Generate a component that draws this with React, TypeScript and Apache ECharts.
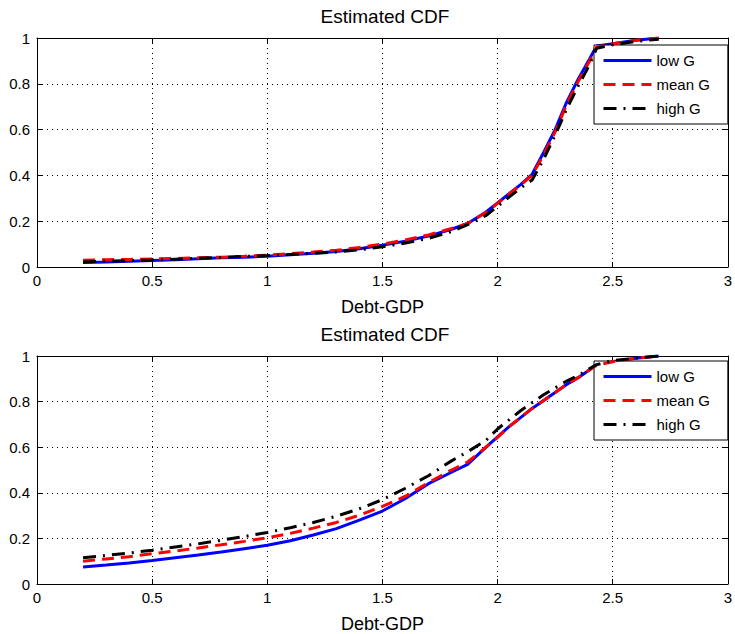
import React, { useEffect, useRef } from "react";
import * as echarts from "echarts";

// Debt-to-GDP grid shared by every curve
const debtGdp = [0.2, 0.3, 0.4, 0.5, 0.6, 0.7, 0.8, 0.9, 1.0, 1.1, 1.2, 1.3, 1.4, 1.5, 1.6, 1.7, 1.8, 1.87, 1.95, 2.0, 2.05, 2.1, 2.15, 2.2, 2.25, 2.3, 2.35, 2.4, 2.43, 2.5, 2.6, 2.7];

// Upper panel
const lowTop = [0.02, 0.022, 0.025, 0.028, 0.032, 0.036, 0.04, 0.043, 0.047, 0.053, 0.06, 0.068, 0.08, 0.095, 0.113, 0.135, 0.165, 0.19, 0.24, 0.28, 0.32, 0.36, 0.405, 0.5, 0.6, 0.72, 0.82, 0.91, 0.965, 0.975, 0.99, 1.0];
const meanTop = [0.03, 0.032, 0.033, 0.035, 0.037, 0.04, 0.043, 0.047, 0.052, 0.058, 0.065, 0.073, 0.085, 0.1, 0.118, 0.14, 0.168, 0.19, 0.238, 0.278, 0.318, 0.358, 0.4, 0.49, 0.59, 0.71, 0.81, 0.9, 0.96, 0.975, 0.99, 1.0];
const highTop = [0.022, 0.025, 0.028, 0.03, 0.034, 0.038, 0.042, 0.046, 0.05, 0.055, 0.06, 0.066, 0.075, 0.088, 0.105, 0.125, 0.155, 0.185, 0.225, 0.265, 0.305, 0.345, 0.38, 0.47, 0.575, 0.69, 0.79, 0.885, 0.955, 0.97, 0.985, 0.995];

// Lower panel
const lowBottom = [0.075, 0.083, 0.092, 0.103, 0.115, 0.127, 0.14, 0.155, 0.17, 0.19, 0.215, 0.243, 0.28, 0.32, 0.375, 0.44, 0.49, 0.525, 0.6, 0.645, 0.69, 0.73, 0.77, 0.805, 0.84, 0.875, 0.905, 0.94, 0.96, 0.975, 0.99, 1.0];
const meanBottom = [0.1, 0.11, 0.12, 0.133, 0.145, 0.158, 0.172, 0.187, 0.203, 0.222, 0.245, 0.27, 0.302, 0.34, 0.385, 0.445, 0.5, 0.535, 0.6, 0.643, 0.69, 0.73, 0.77, 0.805, 0.84, 0.875, 0.905, 0.94, 0.96, 0.975, 0.99, 1.0];
const highBottom = [0.115, 0.125, 0.136, 0.148, 0.162, 0.176, 0.192, 0.208, 0.226, 0.247, 0.27, 0.297, 0.33, 0.37, 0.42, 0.475, 0.54, 0.58, 0.63, 0.68, 0.72, 0.76, 0.795, 0.83, 0.86, 0.89, 0.915, 0.945, 0.962, 0.98, 0.99, 1.0];

const seriesNames = ["low G", "mean G", "high G"];
const xTicks = [0, 0.5, 1, 1.5, 2, 2.5, 3];
const yTicks = [0, 0.2, 0.4, 0.6, 0.8, 1];

const FONT = "Liberation Sans, Arial, sans-serif";

const pair = (ys: number[]) => debtGdp.map((x, i) => [x, ys[i]]);

const styles = [
  { color: "#0000ff", type: "solid" as any },
  { color: "#ff0000", type: [12, 7] as any },
  { color: "#000000", type: [13, 7, 2, 7] as any },
];

export default function App() {
  const ref = useRef<HTMLDivElement>(null);

  useEffect(() => {
    if (!ref.current) return;
    const chart = echarts.init(ref.current, undefined, { renderer: "svg" });

    const grids = [
      { left: 37, top: 38, width: 696, height: 229 },
      { left: 37, top: 356, width: 696, height: 230 },
    ];

    const frameLine = { show: true, onZero: false, lineStyle: { color: "#000", width: 1 } };
    const innerTick = { show: true, inside: true, length: 5, lineStyle: { color: "#000" } };
    const dotted = { show: true, lineStyle: { color: "#000", type: [1, 4], width: 1 } };

    const xAxes: any[] = [];
    const yAxes: any[] = [];
    grids.forEach((_, gi) => {
      xAxes.push({
        type: "value",
        gridIndex: gi,
        min: 0,
        max: 3,
        interval: 0.5,
        position: "bottom",
        name: "Debt-GDP",
        nameLocation: "middle",
        nameGap: 31,
        nameTextStyle: { color: "#000", fontSize: 18, fontFamily: FONT, verticalAlign: "top" },
        axisLine: frameLine,
        axisTick: innerTick,
        axisLabel: {
          color: "#000",
          fontSize: 15,
          fontFamily: FONT,
          margin: 6,
          formatter: (v: number) => (xTicks.includes(v) ? String(v) : ""),
        },
        splitLine: dotted,
      });
      xAxes.push({
        type: "value",
        gridIndex: gi,
        min: 0,
        max: 3,
        interval: 0.5,
        position: "top",
        axisLine: frameLine,
        axisTick: innerTick,
        axisLabel: { show: false },
        splitLine: { show: false },
      });
      yAxes.push({
        type: "value",
        gridIndex: gi,
        min: 0,
        max: 1,
        interval: 0.2,
        position: "left",
        axisLine: frameLine,
        axisTick: innerTick,
        axisLabel: {
          color: "#000",
          fontSize: 15,
          fontFamily: FONT,
          margin: 7,
          formatter: (v: number) => {
            const r = Math.round(v * 10) / 10;
            return yTicks.includes(r) ? String(r) : "";
          },
        },
        splitLine: dotted,
      });
      yAxes.push({
        type: "value",
        gridIndex: gi,
        min: 0,
        max: 1,
        interval: 0.2,
        position: "right",
        axisLine: frameLine,
        axisTick: innerTick,
        axisLabel: { show: false },
        splitLine: { show: false },
      });
    });

    const panels = [
      [lowTop, meanTop, highTop],
      [lowBottom, meanBottom, highBottom],
    ];

    const series: any[] = [];
    panels.forEach((panel, gi) => {
      panel.forEach((ys, si) => {
        series.push({
          type: "line",
          name: seriesNames[si],
          xAxisIndex: gi * 2,
          yAxisIndex: gi * 2,
          data: pair(ys),
          symbol: "none",
          showSymbol: false,
          smooth: false,
          z: 3 + si,
          lineStyle: { color: styles[si].color, type: styles[si].type, width: 3 },
          itemStyle: { color: styles[si].color },
        });
      });
    });

    const legendFor = (top: number) => ({
      orient: "vertical",
      left: 594,
      top,
      itemWidth: 48,
      itemHeight: 14,
      itemGap: 9,
      padding: [8, 18, 8, 8],
      backgroundColor: "#fff",
      borderColor: "#000",
      borderWidth: 1,
      borderRadius: 0,
      selectedMode: false,
      data: seriesNames,
      textStyle: { color: "#000", fontSize: 15, fontFamily: FONT },
      itemStyle: { opacity: 0 },
      lineStyle: { width: 3 },
    });

    const titleStyle = { color: "#000", fontSize: 19, fontWeight: "normal", fontFamily: FONT };

    chart.setOption({
      animation: false,
      backgroundColor: "#fff",
      title: [
        { text: "Estimated CDF", left: 385, top: 7, textAlign: "center", padding: 0, textStyle: titleStyle },
        { text: "Estimated CDF", left: 385, top: 325, textAlign: "center", padding: 0, textStyle: titleStyle },
      ],
      legend: [legendFor(45), legendFor(361)],
      grid: grids.map((g) => ({ ...g, containLabel: false, show: false })),
      xAxis: xAxes,
      yAxis: yAxes,
      series,
    });

    return () => chart.dispose();
  }, []);

  return (
    <div
      ref={ref}
      style={{ position: "absolute", left: 0, top: 0, width: 735, height: 634, background: "#fff" }}
    />
  );
}
